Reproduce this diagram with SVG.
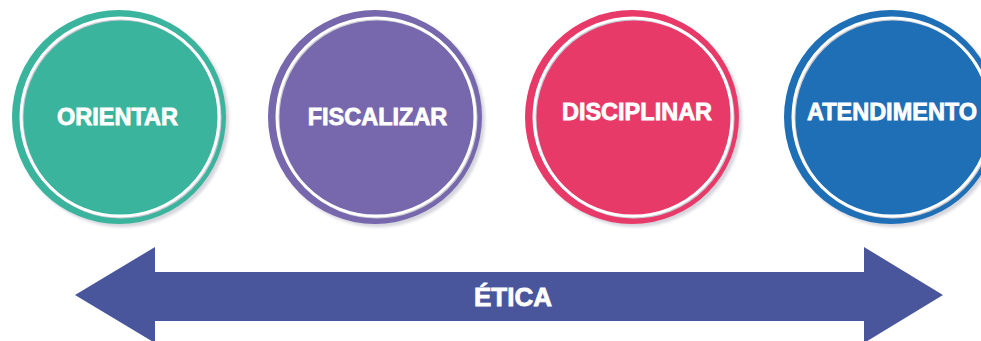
<svg xmlns="http://www.w3.org/2000/svg" width="981" height="341" viewBox="0 0 981 341">
<defs>
<style>
.lbl{font-family:"Liberation Sans",Arial,sans-serif;font-weight:bold;fill:#ffffff;stroke:#ffffff;stroke-width:0.8;font-size:23.5px;text-anchor:middle}
.ring{fill:none;stroke:#ffffff;stroke-width:3}
.ringsh{fill:none;stroke:#c8c8d2;stroke-width:3}
.sh{fill:#d4d4dc}
</style>
<filter id="blur" x="-10%" y="-10%" width="120%" height="120%"><feGaussianBlur stdDeviation="1.5"/></filter>
</defs>
<rect width="981" height="341" fill="#ffffff"/>
<g id="connectors">
<polygon points="75,295 155,247 155,272 864,272 864,247 943,295 864,343 864,321 155,321 155,343" fill="#4A569C"/>
<text x="513" y="306" class="lbl" style="font-size:26px">ÉTICA</text>
</g>
<g id="orientar">
<circle cx="122" cy="120" r="107" class="sh" filter="url(#blur)"/>
<circle cx="119" cy="117" r="107" fill="#3AB49C"/>
<circle cx="121" cy="118" r="99" class="ringsh"/>
<circle cx="120" cy="117" r="99" class="ring"/>
<text x="117.5" y="125" class="lbl">ORIENTAR</text>
</g>
<g id="fiscalizar">
<circle cx="378" cy="120" r="107" class="sh" filter="url(#blur)"/>
<circle cx="375" cy="117" r="107" fill="#7767AC"/>
<circle cx="377" cy="118" r="99" class="ringsh"/>
<circle cx="376" cy="117" r="99" class="ring"/>
<text x="377.5" y="125" class="lbl">FISCALIZAR</text>
</g>
<g id="disciplinar">
<circle cx="635" cy="120" r="107" class="sh" filter="url(#blur)"/>
<circle cx="632" cy="117" r="107" fill="#E83A68"/>
<circle cx="634" cy="118" r="99" class="ringsh"/>
<circle cx="633" cy="117" r="99" class="ring"/>
<text x="637" y="120" class="lbl">DISCIPLINAR</text>
</g>
<g id="atendimento">
<circle cx="894" cy="120" r="107" class="sh" filter="url(#blur)"/>
<circle cx="891" cy="117" r="107" fill="#1F6FB6"/>
<circle cx="893" cy="118" r="99" class="ringsh"/>
<circle cx="892" cy="117" r="99" class="ring"/>
<text x="892" y="120" class="lbl">ATENDIMENTO</text>
</g>
</svg>
